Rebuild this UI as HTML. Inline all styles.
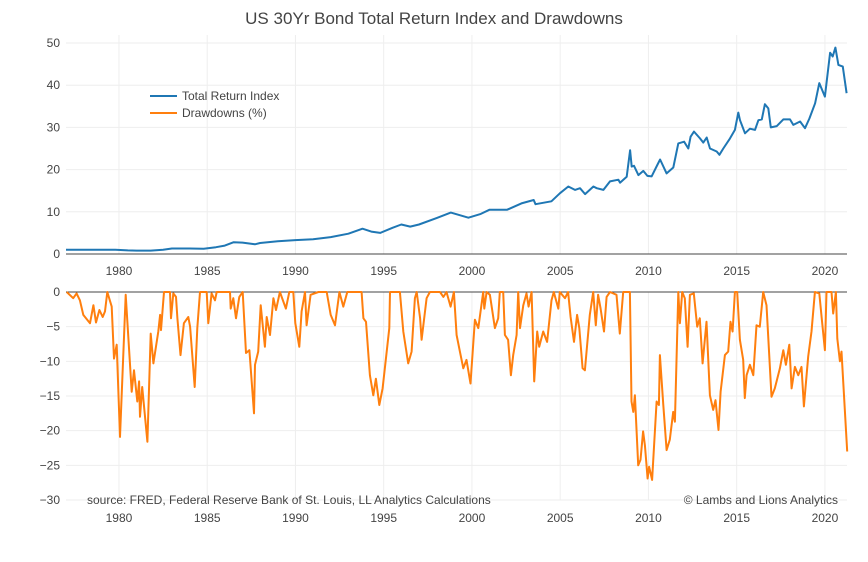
<!DOCTYPE html>
<html><head><meta charset="utf-8"><style>
body{margin:0;background:#fff;}
svg{font-family:"Liberation Sans",sans-serif;}
</style></head><body>
<svg id="chart" width="868" height="557" xmlns="http://www.w3.org/2000/svg">
<text x="434" y="24" text-anchor="middle" font-size="17" fill="#444">US 30Yr Bond Total Return Index and Drawdowns</text>
<g id="grid"></g>
<g id="marks"></g>
<g>
<line x1="150" y1="96" x2="177" y2="96" stroke="#1f77b4" stroke-width="2"/>
<text x="182" y="100" font-size="12" fill="#444">Total Return Index</text>
<line x1="150" y1="113" x2="177" y2="113" stroke="#ff7f0e" stroke-width="2"/>
<text x="182" y="117" font-size="12" fill="#444">Drawdowns (%)</text>
</g>
<text x="87" y="504" font-size="12" fill="#444">source: FRED, Federal Reserve Bank of St. Louis, LL Analytics Calculations</text>
<text x="838" y="504" text-anchor="end" font-size="12" fill="#444">© Lambs and Lions Analytics</text>
</svg>
<script>
const xTicks=[1980,1985,1990,1995,2000,2005,2010,2015,2020];
const idxTicks=[0,10,20,30,40,50];
const ddTicks=[0,-5,-10,-15,-20,-25,-30];
const idxYears=[1977,1978,1979,1979.8,1980.5,1981,1981.8,1982.5,1983,1984,1984.8,1985.5,1986,1986.5,1987,1987.7,1988,1989,1990,1991,1992,1993,1993.8,1994.3,1994.8,1995.5,1996,1996.5,1997,1998,1998.8,1999.8,2000.5,2001,2002,2002.8,2003.5,2003.6,2004.5,
2004.99,2005.46,2005.84,2006.12,2006.41,2006.88,2007.07,2007.45,2007.82,2008.30,2008.39,2008.77,2008.96,2009.05,2009.18,2009.43,2009.71,2009.94,2010.18,2010.50,2010.66,2011.03,2011.41,2011.69,2012.02,2012.26,2012.39,2012.58,2012.92,2013.11,2013.30,2013.49,2013.87,2014.02,2014.24,2014.62,2014.90,2015.09,2015.19,2015.47,2015.75,2016.04,2016.23,2016.42,2016.60,2016.79,2016.93,2017.27,2017.64,2018.02,2018.21,2018.59,2018.87,2019.12,2019.44,2019.68,2020.00,2020.29,2020.44,2020.59,2020.76,2021.01,2021.23];
const idxValues=[1.0,1.0,1.0,1.0,0.85,0.8,0.8,1.0,1.3,1.3,1.25,1.6,2.0,2.8,2.7,2.3,2.6,3.0,3.3,3.5,4.0,4.8,6.0,5.3,5.0,6.2,7.0,6.5,7.0,8.5,9.8,8.6,9.5,10.5,10.5,12.0,12.8,11.8,12.5,
14.4,16.0,15.2,15.6,14.2,16.0,15.6,15.2,17.2,17.6,16.9,18.3,24.6,20.7,20.9,18.7,19.7,18.5,18.4,21.1,22.4,19.1,20.5,26.2,26.6,25.0,27.8,29.0,27.4,26.4,27.6,25.0,24.3,23.5,25.0,27.4,29.4,33.5,31.7,28.6,29.7,29.4,31.7,31.9,35.5,34.5,30.0,30.3,31.9,31.9,30.6,31.4,29.8,32.1,35.7,40.5,37.3,47.7,46.8,48.9,44.8,44.4,38.1];
const ddYears=[1977.04,1977.41,1977.6,1977.79,1977.98,1978.36,1978.55,1978.7,1978.89,1979.08,1979.21,1979.34,1979.59,1979.72,1979.87,1980.06,1980.38,1980.72,1980.85,1981.04,1981.14,1981.19,1981.32,1981.61,1981.8,1981.95,1982.23,1982.33,1982.38,1982.55,1982.89,1982.95,1983.08,1983.23,1983.31,1983.49,1983.68,1983.93,1984.03,1984.29,1984.44,1984.59,1984.97,1985.06,1985.25,1985.44,1985.54,1986.29,1986.33,1986.48,1986.63,1986.82,1987.01,1987.2,1987.39,1987.65,1987.71,1987.89,1988.03,1988.27,1988.37,1988.56,1988.75,1988.9,1989.12,1989.46,1989.65,1989.88,1989.99,1990.22,1990.35,1990.54,1990.63,1990.86,1991.3,1991.77,1992.0,1992.24,1992.49,1992.71,1992.94,1993.75,1993.85,1994.0,1994.22,1994.41,1994.56,1994.75,1994.94,1995.17,1995.32,1995.36,1995.92,1996.11,1996.39,1996.58,1996.77,1996.87,1997.06,1997.15,1997.43,1997.62,1998.19,1998.38,1998.56,1998.79,1998.98,1999.13,1999.32,
1999.51,1999.69,1999.92,2000.17,2000.36,2000.64,2000.7,2000.83,2001.02,2001.3,2001.49,2001.58,2001.77,2001.87,2002.05,2002.21,2002.34,2002.53,2002.62,2002.72,2002.91,2003.09,2003.21,2003.38,2003.53,2003.7,2003.81,2004.04,2004.26,2004.51,2004.64,2004.89,2004.98,2005.27,2005.45,2005.59,2005.78,2005.96,2006.08,2006.27,2006.4,2006.68,2006.87,2007.02,2007.15,2007.29,2007.48,2007.63,2007.82,2008.19,2008.38,2008.48,2008.57,2008.95,2009.04,2009.14,2009.23,2009.42,2009.55,2009.7,2009.8,2009.95,2010.04,2010.21,2010.46,2010.59,2010.65,2010.84,2011.03,2011.21,2011.4,2011.5,2011.69,2011.78,2011.91,2012.06,2012.22,2012.35,2012.57,2012.76,2012.91,2013.07,2013.29,2013.48,2013.67,2013.8,2013.97,2014.09,2014.33,2014.52,2014.65,2014.77,2014.9,2015.03,2015.18,2015.37,2015.46,2015.56,2015.75,2015.94,2016.12,2016.31,2016.5,2016.69,2016.97,2017.16,2017.45,2017.64,2017.79,2017.98,2018.11,2018.3,2018.49,2018.67,2018.81,2019.05,2019.24,2019.43,2019.68,2019.81,2020.0,2020.09,2020.37,2020.47,2020.62,2020.7,2020.85,2020.94,2021.26];
const ddValues=[0,-0.9,-0.2,-1.2,-3.3,-4.5,-1.9,-4.4,-2.6,-3.6,-2.8,0,-2.1,-9.6,-7.6,-20.9,-0.4,-14.4,-11.3,-15.8,-12.9,-18.0,-13.7,-21.6,-6.0,-10.3,-5.7,-3.3,-5.5,0,0,-3.8,-0.2,-0.7,-3.8,-9.1,-4.5,-3.6,-5.0,-13.7,-5.2,0,0,-4.5,-0.2,-1.2,0,0,-2.4,-0.9,-3.8,-0.7,0,-8.8,-8.4,-17.5,-10.5,-8.6,-1.9,-7.9,-3.6,-6.2,-0.9,-2.6,0,-2.4,0,0,-4.5,-7.9,-2.8,0,-4.8,-0.4,0,0,-3.3,-4.8,0,-2.1,0,0,-3.8,-4.3,-12.0,-14.9,-12.5,-16.3,-13.9,-8.6,-5.2,0,0,-5.7,-10.3,-8.6,-0.9,0,-3.8,-6.9,-0.9,0,0,-0.7,0,-2.1,0,-6.2,-8.6,
-11.0,-9.8,-13.2,-4.0,-5.2,0,-2.4,0,-0.4,-5.2,-3.8,0,0,-6.2,-6.9,-12.0,-9.1,-6.2,0,-5.2,-1.9,-0.2,-2.1,0,-12.9,-5.7,-7.9,-5.7,-7.2,-1.2,0,-2.4,0,-0.9,0,-3.6,-7.2,-3.3,-5.2,-11.0,-11.3,-3.3,0,-4.8,-0.4,-2.4,-5.7,-0.7,0,-0.4,-6.0,-2.8,0,0,-15.8,-17.3,-14.9,-25.0,-24.2,-20.1,-22.1,-26.9,-25.2,-27.1,-15.8,-16.3,-9.1,-16.3,-22.8,-21.3,-17.3,-18.7,0,-4.5,0,-0.9,-7.9,-0.4,-0.2,-5.0,-3.8,-10.3,-4.3,-14.9,-17.0,-15.6,-19.9,-14.4,-9.1,-8.6,-4.3,-5.7,0,0,-6.9,-9.8,-15.3,-12.0,-10.5,-12.0,-4.8,-5.0,0,-1.9,-15.1,-13.9,-11.0,-8.4,-10.5,-7.6,-13.9,-10.8,-12.0,-10.8,-16.5,-9.3,-5.7,0,-0.2,-3.6,-8.4,0,0,-3.1,0,-6.7,-10.0,-8.6,-23.0];

const NS="http://www.w3.org/2000/svg";
const X0=66,X1=847,Y0=1977.0,Y1=2021.25;
function xs(y){return X0+(y-Y0)/(Y1-Y0)*(X1-X0);}
function yTop(v){return 254-v*4.22;}
function yBot(v){return 292+(v/-30)*208;}
function mk(tag,attrs,parent){const e=document.createElementNS(NS,tag);for(const k in attrs)e.setAttribute(k,attrs[k]);parent.appendChild(e);return e;}
const grid=document.getElementById('grid'),marks=document.getElementById('marks');
xTicks.forEach(t=>{
  const x=xs(t);
  let l=mk('line',{x1:x,x2:x,y1:35,y2:254,stroke:'#eee'},grid);
  
  
  l=mk('line',{x1:x,x2:x,y1:292,y2:500,stroke:'#eee'},grid);
  
  
  let tx=mk('text',{x:x,y:275,'text-anchor':'middle','font-size':12,fill:'#444'},grid);tx.textContent=t;
  
  
  tx=mk('text',{x:x,y:522,'text-anchor':'middle','font-size':12,fill:'#444'},grid);tx.textContent=t;
  
  
});
idxTicks.forEach(t=>{
  const y=yTop(t);
  const l=mk('line',{x1:X0,x2:X1,y1:y,y2:y,stroke:t===0?'#444':'#eee'},grid);
  
  
  const tx=mk('text',{x:X0-6,y:y+4,'text-anchor':'end','font-size':12,fill:'#444'},grid);tx.textContent=t;
  
  
});
ddTicks.forEach(t=>{
  const y=yBot(t);
  const l=mk('line',{x1:X0,x2:X1,y1:y,y2:y,stroke:t===0?'#444':'#eee'},grid);
  
  
  const tx=mk('text',{x:X0-6,y:y+4,'text-anchor':'end','font-size':12,fill:'#444'},grid);tx.textContent=t===0?'0':'−'+(-t);
  
  
});
let p=idxYears.map((yr,i)=>(i?'L':'M')+xs(yr).toFixed(1)+','+yTop(idxValues[i]).toFixed(1)).join('');
const l1=mk('path',{d:p,fill:'none',stroke:'#1f77b4','stroke-width':2,'stroke-linejoin':'round'},marks);


p=ddYears.map((yr,i)=>(i?'L':'M')+xs(yr).toFixed(1)+','+yBot(ddValues[i]).toFixed(1)).join('');
const l2=mk('path',{d:p,fill:'none',stroke:'#ff7f0e','stroke-width':2,'stroke-linejoin':'round'},marks);


</script>
</body></html>
